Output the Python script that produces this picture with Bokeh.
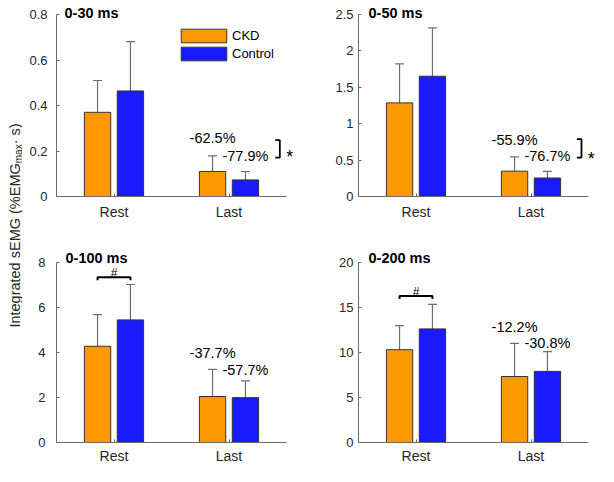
import math
from bokeh.plotting import figure
from bokeh.models import (ColumnDataSource, Whisker, TeeHead, Label, Legend, LegendItem,
                          FixedTicker, NumeralTickFormatter, Range1d)
from bokeh.layouts import row, column
from bokeh.transform import dodge
from bokeh.embed import file_html
from bokeh.resources import INLINE

# ---------------- data ----------------
categories = ["Rest", "Last"]
groups = ["CKD", "Control"]
titles = ["0-30 ms", "0-50 ms", "0-100 ms", "0-200 ms"]

ckd_30 = [0.370, 0.110]
ckd_30_sd = [0.140, 0.069]
ctl_30 = [0.464, 0.073]
ctl_30_sd = [0.217, 0.037]

ckd_50 = [1.286, 0.348]
ckd_50_sd = [0.535, 0.197]
ctl_50 = [1.652, 0.254]
ctl_50_sd = [0.665, 0.090]

ckd_100 = [4.27, 2.04]
ckd_100_sd = [1.40, 1.20]
ctl_100 = [5.44, 1.99]
ctl_100_sd = [1.57, 0.74]

ckd_200 = [10.29, 7.32]
ckd_200_sd = [2.67, 3.68]
ctl_200 = [12.60, 7.89]
ctl_200_sd = [2.72, 2.18]

pct_30 = ["-62.5%", "-77.9%"]
pct_50 = ["-55.9%", "-76.7%"]
pct_100 = ["-37.7%", "-57.7%"]
pct_200 = ["-12.2%", "-30.8%"]

yticks_30 = [0, 0.2, 0.4, 0.6, 0.8]
yticks_50 = [0, 0.5, 1, 1.5, 2, 2.5]
yticks_100 = [0, 2, 4, 6, 8]
yticks_200 = [0, 5, 10, 15, 20]

ylabel_main = "Integrated sEMG (%EMG"
ylabel_sub = "max"
ylabel_end = " \u00b7 s)"

# ---------------- style ----------------
FONT = "Liberation Sans"
ORANGE = "#FF9900"
BLUE = "#1A1AFF"
EDGE = "#333333"
ERR = "#6E6E6E"
AXIS = "#6B6B6B"
TEXT = "#262626"
OFF = 0.143
BAR_W = 0.229
PXU = 115.0      # pixels per category unit
AXH = 182.0      # pixel height of the y axis span

cat_x = list(range(1, len(categories) + 1))


def build(title, ckd, ckd_sd, ctl, ctl_sd, yticks, pct, cfg, legend=False):
    ymax = yticks[-1]
    frame_w = cfg["w"] - cfg["bl"]
    frame_h = cfg["h"] - cfg["bb"]
    yu = ymax / AXH   # data per pixel
    p = figure(width=cfg["w"], height=cfg["h"],
               x_range=Range1d(0.5, 0.5 + frame_w / PXU),
               y_range=Range1d(0, frame_h * yu),
               output_backend="svg", toolbar_location=None,
               min_border_left=cfg["bl"], min_border_right=0,
               min_border_top=0, min_border_bottom=cfg["bb"])
    p.outline_line_color = None
    p.grid.grid_line_color = None

    src = ColumnDataSource(dict(
        x=cat_x,
        ckd=ckd, ckd_top=[m + s for m, s in zip(ckd, ckd_sd)],
        ctl=ctl, ctl_top=[m + s for m, s in zip(ctl, ctl_sd)],
    ))
    xl = dodge("x", -OFF, range=p.x_range)
    xr = dodge("x", OFF, range=p.x_range)
    r1 = p.vbar(x=xl, top="ckd", width=BAR_W, source=src,
                fill_color=ORANGE, line_color=EDGE, line_width=1)
    r2 = p.vbar(x=xr, top="ctl", width=BAR_W, source=src,
                fill_color=BLUE, line_color=EDGE, line_width=1)
    for base, lo, hi in ((xl, "ckd", "ckd_top"), (xr, "ctl", "ctl_top")):
        p.add_layout(Whisker(source=src, base=base, lower=lo, upper=hi, dimension="height",
                             line_color=ERR, line_width=1.2, lower_head=None,
                             upper_head=TeeHead(size=9, line_color=ERR, line_width=1.2)))

    xa = p.xaxis[0]
    ya = p.yaxis[0]
    xa.ticker = FixedTicker(ticks=cat_x)
    xa.major_label_overrides = dict(zip(cat_x, categories))
    xa.bounds = (0.5, 0.5 + len(categories))
    xa.major_label_standoff = cfg["xs"]
    xa.major_label_text_font_size = "14px"
    ya.ticker = FixedTicker(ticks=yticks)
    ya.bounds = (0, ymax)
    ya.formatter = NumeralTickFormatter(format="0.[0]")
    ya.major_label_standoff = cfg["ys"]
    ya.major_label_text_font_size = "13px"
    for ax in (xa, ya):
        ax.axis_line_color = AXIS
        ax.axis_line_width = 1
        ax.major_tick_line_color = AXIS
        ax.major_tick_in = 3
        ax.major_tick_out = 0
        ax.minor_tick_line_color = None
        ax.major_label_text_font = FONT
        ax.major_label_text_color = TEXT

    # panel title (placed a few pixels above the top of the y axis)
    p.add_layout(Label(x=0.5 + cfg["tx"] / PXU, y=ymax + cfg["tpx"] * yu, text=title,
                       text_font=FONT, text_font_style="bold", text_font_size="14.5px",
                       text_align="left", text_baseline="alphabetic", text_color="black"))
    # percent-change labels above the "Last" bars
    last = cat_x[-1]
    for xpos, txt, ypos in ((last - OFF, pct[0], cfg["py"][0]), (last + OFF, pct[1], cfg["py"][1])):
        p.add_layout(Label(x=xpos, y=ypos, text=txt, text_font=FONT, text_font_size="14.5px",
                           text_align="center", text_baseline="middle", text_color="black"))
    # significance bracket between groups (Last)
    if cfg.get("star"):
        xv, y0, y1, sx, sy = cfg["star"]
        t = 0.04
        p.line([xv - t, xv, xv, xv - t], [y0, y0, y1, y1], line_color="black", line_width=1.8)
        p.add_layout(Label(x=sx, y=sy, text="*", text_font=FONT, text_font_size="18px",
                           text_align="center", text_baseline="alphabetic", text_color="black"))
    # "#" bracket between groups (Rest)
    if cfg.get("hash"):
        yh, yl, hy = cfg["hash"]
        first = cat_x[0]
        p.line([first - OFF, first - OFF, first + OFF, first + OFF], [yl, yh, yh, yl],
               line_color="black", line_width=2)
        p.add_layout(Label(x=first, y=hy, text="#", text_font=FONT, text_font_size="12px",
                           text_align="center", text_baseline="alphabetic", text_color="black"))
    if legend:
        lg = Legend(items=[LegendItem(label=groups[0], renderers=[r1]),
                           LegendItem(label=groups[1], renderers=[r2])],
                    location=(119, 134), orientation="vertical", padding=0, margin=0,
                    spacing=1, glyph_width=57, glyph_height=17, label_height=13,
                    label_standoff=0, label_text_font=FONT, label_text_font_size="13px",
                    label_text_color="black", border_line_color=None,
                    background_fill_alpha=0)
        p.add_layout(lg)
    return p


# canvas layout: label strip 22 px, left column 286 px, right column 290 px
top_left = dict(w=286, h=228, bl=34, bb=32, ys=9, xs=7, tpx=1.5, tx=8)
top_right = dict(w=290, h=228, bl=50, bb=32, ys=5, xs=7, tpx=1.5, tx=10)
bot_left = dict(w=286, h=238, bl=34, bb=22, ys=11, xs=5, tpx=4, tx=9)
bot_right = dict(w=290, h=238, bl=50, bb=22, ys=5, xs=5, tpx=4, tx=10)

c1 = dict(top_left, py=(0.255, 0.180), star=(2.442, 0.248, 0.171, 2.529, 0.174))
c2 = dict(top_right, py=(0.775, 0.552), star=(2.439, 0.789, 0.535, 2.523, 0.516))
c3 = dict(bot_left, py=(3.99, 3.23), hash=(7.33, 7.20, 7.50))
c4 = dict(bot_right, py=(12.86, 11.07), hash=(16.25, 15.93, 16.72))

p1 = build(titles[0], ckd_30, ckd_30_sd, ctl_30, ctl_30_sd, yticks_30, pct_30, c1, legend=True)
p2 = build(titles[1], ckd_50, ckd_50_sd, ctl_50, ctl_50_sd, yticks_50, pct_50, c2)
p3 = build(titles[2], ckd_100, ckd_100_sd, ctl_100, ctl_100_sd, yticks_100, pct_100, c3)
p4 = build(titles[3], ckd_200, ckd_200_sd, ctl_200, ctl_200_sd, yticks_200, pct_200, c4)

# shared y-axis label
H = 466
LW = 22
lab = figure(width=LW, height=H, x_range=Range1d(0, LW), y_range=Range1d(0, H),
             x_axis_type=None, y_axis_type=None, output_backend="svg",
             toolbar_location=None, min_border=0, outline_line_color=None)
lab.grid.grid_line_color = None
fs_main, fs_sub = 14.5, 10
w_main = 11.337 * fs_main
w_sub = 1.889 * fs_sub
w_end = 1.722 * fs_main
y_start = (H - 223) - (w_main + w_sub + w_end) / 2
for txt, xb, yb, fs in ((ylabel_main, 14, y_start, fs_main),
                        (ylabel_sub, 17.5, y_start + w_main, fs_sub),
                        (ylabel_end, 14, y_start + w_main + w_sub, fs_main)):
    lab.add_layout(Label(x=xb, y=yb, text=txt, angle=math.pi / 2, text_font=FONT,
                         text_font_size=f"{fs}px", text_align="left",
                         text_baseline="alphabetic", text_color=TEXT))

layout = row(lab, column(row(p1, p2), row(p3, p4)))
open("out.html", "w").write(file_html(layout, INLINE))
